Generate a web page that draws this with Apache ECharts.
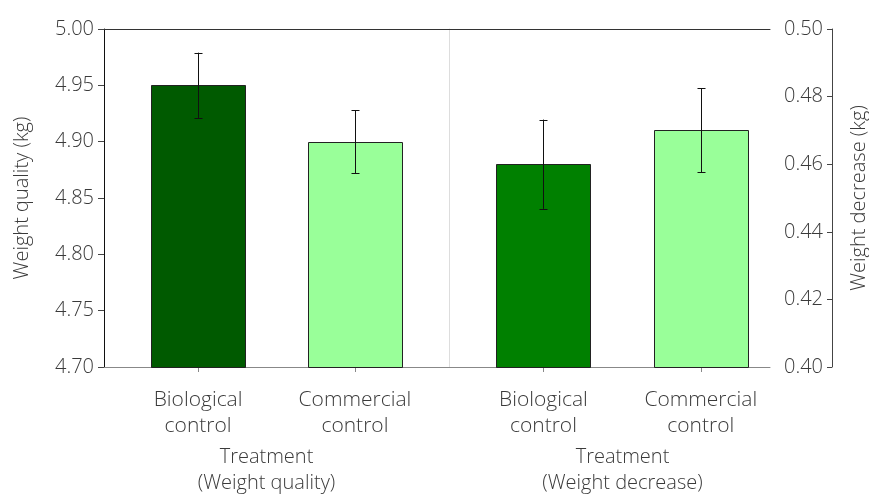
<!DOCTYPE html>
<html>
<head>
<meta charset="utf-8">
<script src="https://cdn.jsdelivr.net/npm/echarts@6/dist/echarts.min.js"></script>
<style>html,body{margin:0;padding:0;background:#fff}#c{width:869px;height:494px}</style>
</head>
<body>
<div id="c"></div>
<script>
const categories = ['Biological\ncontrol', 'Commercial\ncontrol'];
const qualityMean = [4.95, 4.90];
const qualityErr = [0.029, 0.028];
const decreaseMean = [0.460, 0.470];
const decreaseErr = [0.0132, 0.0124];
const qualityColors = ['#005a00', '#99ff99'];
const decreaseColors = ['#008000', '#99ff99'];
const qualityTicks = [4.70, 5.00, 0.05];
const decreaseTicks = [0.40, 0.50, 0.02];

const FONT = 'Open Sans';
const TXT = '#3a3a3a';

function makeBar(colors) {
  return function (params, api) {
    const x = api.value(0), y = api.value(1);
    const cs = params.coordSys;
    const top = api.coord([x - 0.3, y]);
    const w = api.size([0.6, 0])[0];
    const bottom = cs.y + cs.height;
    return {
      type: 'rect',
      shape: { x: Math.round(top[0]) + 0.5, y: Math.round(top[1]) + 0.5, width: Math.round(w), height: Math.round(bottom - top[1]) },
      style: { fill: colors[params.dataIndex], stroke: '#222', lineWidth: 1 }
    };
  };
}

function errItem(params, api) {
  const x = api.value(0), lo = api.value(1), hi = api.value(2);
  const p1 = api.coord([x, hi]);
  const p2 = api.coord([x, lo]);
  const cx = Math.round(p1[0]) + 0.5;
  const cap = 4;
  const st = { stroke: '#111', lineWidth: 1 };
  return {
    type: 'group',
    children: [
      { type: 'line', shape: { x1: cx, y1: p1[1], x2: cx, y2: p2[1] }, style: st },
      { type: 'line', shape: { x1: cx - cap, y1: Math.round(p1[1]) + 0.5, x2: cx + cap, y2: Math.round(p1[1]) + 0.5 }, style: st },
      { type: 'line', shape: { x1: cx - cap, y1: Math.round(p2[1]) + 0.5, x2: cx + cap, y2: Math.round(p2[1]) + 0.5 }, style: st }
    ]
  };
}

const barDataQ = qualityMean.map((v, i) => [i, v]);
const barDataD = decreaseMean.map((v, i) => [i, v]);
const errDataQ = qualityMean.map((v, i) => [i, v - qualityErr[i], v + qualityErr[i]]);
const errDataD = decreaseMean.map((v, i) => [i, v - decreaseErr[i], v + decreaseErr[i]]);

const labelStyle = { color: TXT, fontFamily: FONT, fontWeight: 300, fontSize: 20 };

function catXAxis(grid, min, max, name, namePad) {
  return {
    type: 'value', gridIndex: grid, position: 'bottom', min: min, max: max,
    axisLine: { show: true, onZero: false, lineStyle: { color: '#888', width: 1 } },
    axisTick: { show: true, customValues: [0, 1], length: 5, lineStyle: { color: '#888' } },
    axisLabel: Object.assign({}, labelStyle, { customValues: [0, 1], margin: 20, lineHeight: 26, fontSize: 21,
      formatter: v => categories[Math.round(v)] || '' }),
    splitLine: { show: false },
    name: name, nameLocation: 'middle', nameGap: 76,
    nameTextStyle: Object.assign({ lineHeight: 26, padding: namePad }, labelStyle)
  };
}
function topXAxis(grid, min, max) {
  return {
    type: 'value', gridIndex: grid, position: 'top', min: min, max: max,
    axisLine: { show: true, onZero: false, lineStyle: { color: '#333', width: 1 } },
    axisTick: { show: false }, axisLabel: { show: false }, splitLine: { show: false }
  };
}

const option = {
  backgroundColor: '#fff',
  animation: false,
  grid: [
    { left: 104, right: 420, top: 29, bottom: 127, outerBoundsMode: 'none', containLabel: false },
    { left: 449, right: 99, top: 29, bottom: 127, outerBoundsMode: 'none', containLabel: false }
  ],
  xAxis: [
    catXAxis(0, -0.6, 1.6, 'Treatment\n(Weight quality)', [0, 20, 0, 0]),
    catXAxis(1, -0.6, 1.44, 'Treatment\n(Weight decrease)', [0, 0, 0, 26]),
    topXAxis(0, -0.6, 1.6),
    topXAxis(1, -0.6, 1.44)
  ],
  yAxis: [
    {
      type: 'value', gridIndex: 0, position: 'left',
      min: qualityTicks[0], max: qualityTicks[1], interval: qualityTicks[2],
      axisLine: { show: true, onZero: false, lineStyle: { color: '#111' } },
      axisTick: { show: true, length: 6, lineStyle: { color: '#444' } },
      axisLabel: Object.assign({ margin: 10, formatter: v => v.toFixed(2) }, labelStyle),
      splitLine: { show: false },
      name: 'Weight quality (kg)', nameLocation: 'middle', nameGap: 72, nameRotate: 90,
      nameTextStyle: labelStyle
    },
    {
      type: 'value', gridIndex: 1, position: 'right', offset: 62,
      min: decreaseTicks[0], max: decreaseTicks[1], interval: decreaseTicks[2],
      axisLine: { show: true, onZero: false, lineStyle: { color: '#444' } },
      axisTick: { show: true, inside: true, length: 5, lineStyle: { color: '#444' } },
      axisLabel: Object.assign({ inside: true, margin: 9, formatter: v => v.toFixed(2) }, labelStyle),
      splitLine: { show: false },
      name: 'Weight decrease (kg)', nameLocation: 'middle', nameGap: 17, nameRotate: 90,
      nameTextStyle: labelStyle
    },
    {
      type: 'value', gridIndex: 1, position: 'left',
      min: decreaseTicks[0], max: decreaseTicks[1],
      axisLine: { show: true, onZero: false, lineStyle: { color: '#dddddd' } },
      axisTick: { show: false }, axisLabel: { show: false }, splitLine: { show: false }
    }
  ],
  series: [
    { type: 'custom', xAxisIndex: 0, yAxisIndex: 0, renderItem: makeBar(qualityColors), data: barDataQ, clip: false, z: 2 },
    { type: 'custom', xAxisIndex: 1, yAxisIndex: 1, renderItem: makeBar(decreaseColors), data: barDataD, clip: false, z: 2 },
    { type: 'custom', xAxisIndex: 0, yAxisIndex: 0, renderItem: errItem, data: errDataQ, encode: { x: 0, y: [1, 2] }, z: 3 },
    { type: 'custom', xAxisIndex: 1, yAxisIndex: 1, renderItem: errItem, data: errDataD, encode: { x: 0, y: [1, 2] }, z: 3 }
  ]
};

const chart = echarts.init(document.getElementById('c'), null, { renderer: 'canvas' });
chart.setOption(option);
</script>
</body>
</html>
